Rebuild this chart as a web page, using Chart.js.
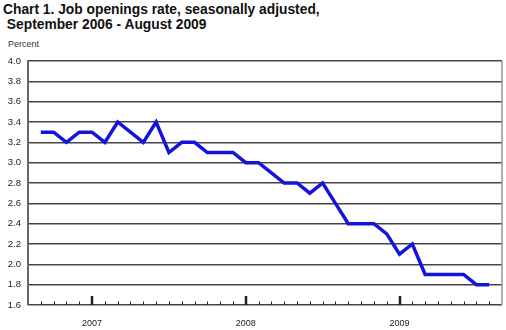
<!DOCTYPE html>
<html>
<head>
<meta charset="utf-8">
<script src="https://cdn.jsdelivr.net/npm/chart.js@4"></script>
<style>
  body { margin: 0; background: #fff; }
  #wrap { position: relative; width: 506px; height: 330px; }
  #title { position: absolute; left: 3px; top: 2px; font: bold 13.8px "Liberation Sans", Arial, sans-serif; line-height: 15px; color: #111; white-space: pre; }
  #unit { position: absolute; left: 8px; top: 39px; font: 9px "Liberation Sans", Arial, sans-serif; color: #333; }
  canvas { position: absolute; left: 0; top: 0; }
</style>
</head>
<body>
<div id="wrap">
  <div id="title">Chart 1. Job openings rate, seasonally adjusted,
 September 2006 - August 2009</div>
  <div id="unit">Percent</div>
  <canvas id="chart" width="506" height="330"></canvas>
</div>
<script>
// Sep 2006 .. Aug 2009, one point a month
const months = [
  'Sep 2006', 'Oct 2006', 'Nov 2006', 'Dec 2006',
  'Jan 2007', 'Feb 2007', 'Mar 2007', 'Apr 2007', 'May 2007', 'Jun 2007',
  'Jul 2007', 'Aug 2007', 'Sep 2007', 'Oct 2007', 'Nov 2007', 'Dec 2007',
  'Jan 2008', 'Feb 2008', 'Mar 2008', 'Apr 2008', 'May 2008', 'Jun 2008',
  'Jul 2008', 'Aug 2008', 'Sep 2008', 'Oct 2008', 'Nov 2008', 'Dec 2008',
  'Jan 2009', 'Feb 2009', 'Mar 2009', 'Apr 2009', 'May 2009', 'Jun 2009',
  'Jul 2009', 'Aug 2009'
];
const rate = [
  3.3, 3.3, 3.2, 3.3,
  3.3, 3.2, 3.4, 3.3, 3.2, 3.4, 3.1, 3.2, 3.2, 3.1, 3.1, 3.1,
  3.0, 3.0, 2.9, 2.8, 2.8, 2.7, 2.8, 2.6, 2.4, 2.4, 2.4, 2.3,
  2.1, 2.2, 1.9, 1.9, 1.9, 1.9, 1.8, 1.8
];
const yearLabels = ['2007', '2008', '2009'];
const yearStarts = [4, 16, 28]; // index of January in months

const points = rate.map((v, i) => ({ x: i, y: v }));

// inward tick marks on the bottom axis and the right frame line
const frame = {
  id: 'frame',
  afterDraw(chart) {
    const c = chart.ctx, a = chart.chartArea, xs = chart.scales.x;
    c.save();
    c.strokeStyle = '#999';
    c.lineWidth = 1.5;
    c.beginPath();
    c.moveTo(a.right, a.top);
    c.lineTo(a.right, a.bottom);
    c.stroke();
    c.strokeStyle = '#222';
    months.forEach((m, i) => {
      const major = yearStarts.includes(i);
      const px = Math.round(xs.getPixelForValue(i));
      c.lineWidth = major ? 2.5 : 1;
      c.beginPath();
      c.moveTo(px + (major ? 0 : 0.5), a.bottom);
      c.lineTo(px + (major ? 0 : 0.5), a.bottom - (major ? 9 : 3.5));
      c.stroke();
    });
    c.restore();
  }
};

const ctx = document.getElementById('chart').getContext('2d');
new Chart(ctx, {
  type: 'line',
  data: {
    datasets: [{
      label: 'Job openings rate',
      data: points,
      borderColor: '#1414dc',
      borderWidth: 3.5,
      pointRadius: 0,
      tension: 0,
      borderJoinStyle: 'miter'
    }]
  },
  options: {
    responsive: false,
    animation: false,
    layout: { padding: { top: 61, right: 4, left: 0, bottom: 0 } },
    plugins: { legend: { display: false }, tooltip: { enabled: false } },
    scales: {
      x: {
        type: 'linear',
        min: -1,
        max: 36,
        afterFit: (s) => { s.height = 25; },
        afterBuildTicks: (s) => {
          s.ticks = yearStarts.map(v => ({ value: v }));
        },
        grid: { display: false, drawTicks: false },
        border: { display: false },
        ticks: {
          padding: 13,
          maxRotation: 0,
          autoSkip: false,
          color: '#222',
          font: { family: '"Liberation Sans", Arial', size: 9 },
          callback: (v) => yearLabels[yearStarts.indexOf(v)]
        }
      },
      y: {
        min: 1.6,
        max: 4.0,
        afterFit: (s) => { s.width = 28; },
        grid: { color: '#444', lineWidth: 1.5, drawTicks: false },
        border: { color: '#666', width: 2 },
        ticks: {
          stepSize: 0.2,
          padding: 7,
          color: '#222',
          font: { family: '"Liberation Sans", Arial', size: 9.5 },
          callback: (v) => v.toFixed(1)
        }
      }
    }
  },
  plugins: [frame]
});
</script>
</body>
</html>
